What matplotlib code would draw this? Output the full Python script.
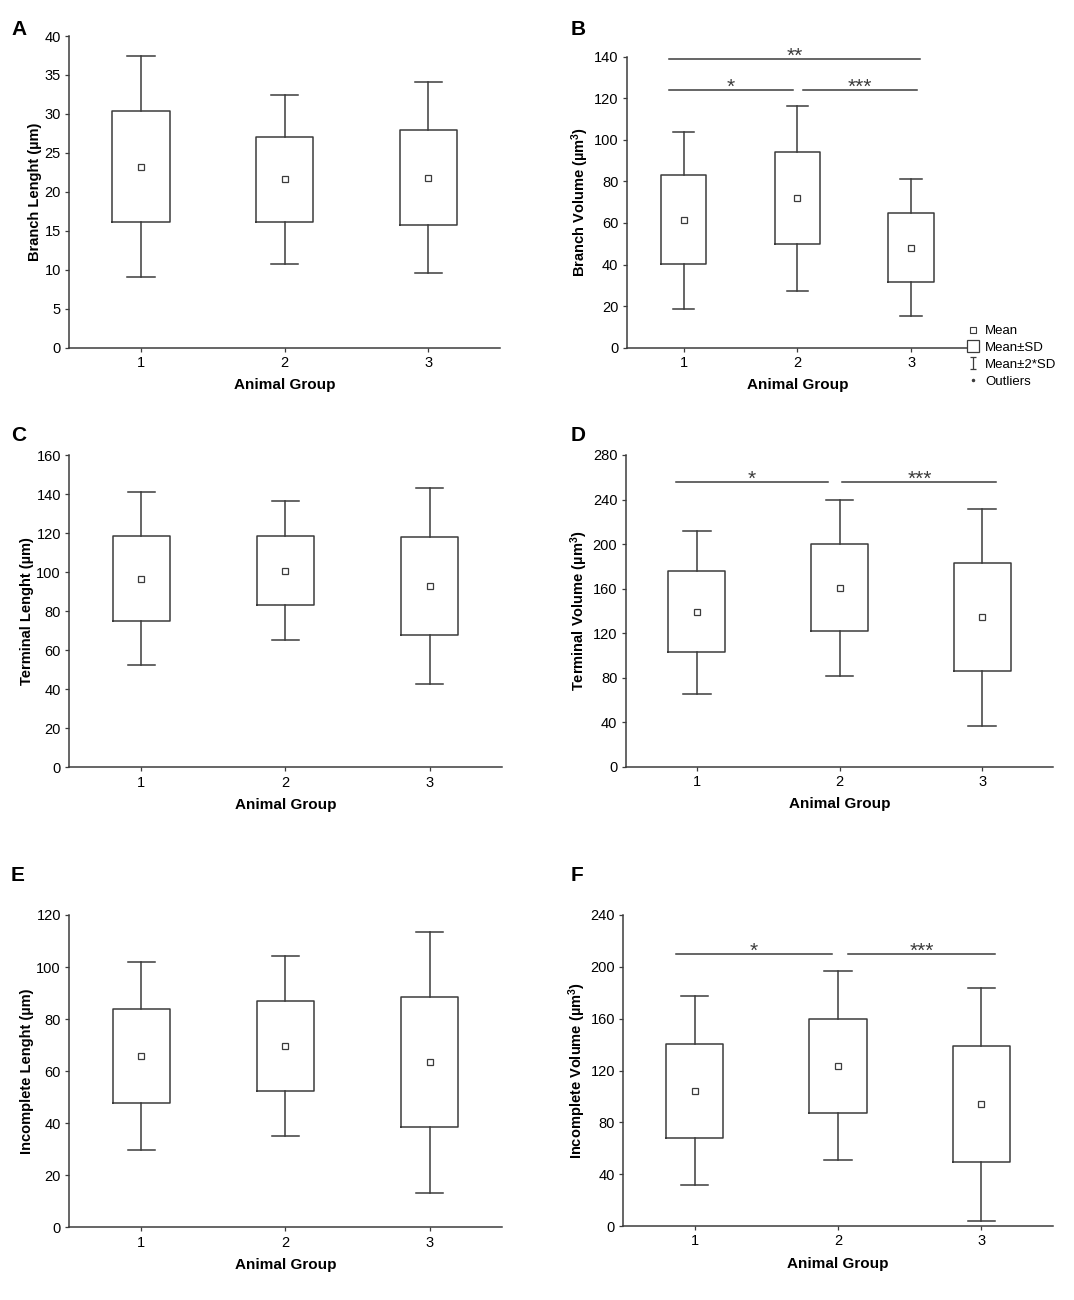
import matplotlib
matplotlib.use('Agg')
import matplotlib.pyplot as plt
from matplotlib.lines import Line2D
from matplotlib.path import Path

plt.rcParams['font.family'] = ['Liberation Sans', 'DejaVu Sans']
plt.rcParams['mathtext.fontset'] = 'custom'
plt.rcParams['mathtext.rm'] = 'Liberation Sans'
plt.rcParams['mathtext.it'] = 'Liberation Sans:italic'
plt.rcParams['mathtext.bf'] = 'Liberation Sans:bold'

groups = [1, 2, 3]

# mean, mean-SD, mean+SD, mean-2SD, mean+2SD
a_mean = [23.2, 21.6, 21.8]
a_sd_lo = [16.1, 16.1, 15.7]
a_sd_hi = [30.4, 27.0, 28.0]
a_sd2_lo = [9.1, 10.7, 9.6]
a_sd2_hi = [37.4, 32.4, 34.1]

b_mean = [61.4, 71.8, 47.8]
b_sd_lo = [40.2, 49.7, 31.8]
b_sd_hi = [83.0, 94.0, 64.6]
b_sd2_lo = [18.8, 27.4, 15.4]
b_sd2_hi = [104.0, 116.3, 81.0]

c_mean = [96.7, 100.8, 93.1]
c_sd_lo = [74.8, 83.0, 68.0]
c_sd_hi = [118.7, 118.3, 118.0]
c_sd2_lo = [52.4, 65.4, 42.7]
c_sd2_hi = [141.2, 136.4, 143.3]

d_mean = [139.3, 160.5, 134.2]
d_sd_lo = [102.7, 121.6, 85.7]
d_sd_hi = [175.5, 199.8, 183.4]
d_sd2_lo = [65.6, 81.8, 36.5]
d_sd2_hi = [212.0, 239.3, 231.8]

e_mean = [66.0, 69.6, 63.7]
e_sd_lo = [47.8, 52.5, 38.4]
e_sd_hi = [84.0, 87.1, 88.4]
e_sd2_lo = [29.8, 35.0, 13.3]
e_sd2_hi = [102.0, 104.3, 113.5]

f_mean = [104.4, 123.5, 94.4]
f_sd_lo = [68.2, 86.9, 49.4]
f_sd_hi = [140.7, 159.7, 138.9]
f_sd2_lo = [31.4, 50.7, 4.1]
f_sd2_hi = [177.5, 196.8, 183.9]

# significance bars: (x start, x end, y, stars)
b_sig = [(0.87, 3.08, 139, '**'), (0.87, 1.965, 124, '*'), (2.05, 3.05, 124, '***')]
d_sig = [(0.85, 1.92, 256, '*'), (2.02, 3.10, 256, '***')]
f_sig = [(0.87, 1.955, 210, '*'), (2.07, 3.10, 210, '***')]

W, H = 1074, 1300
dark = '#3c3c3c'
fig = plt.figure(figsize=(W / 100, H / 100), dpi=100)


def px_axes(l, t, r, b):
    return fig.add_axes([l / W, 1 - b / H, (r - l) / W, (b - t) / H])


def panel(box, letter, letter_xy, mean, lo, hi, lo2, hi2, ymax, ystep, ylabel, sig=None):
    ax = px_axes(*box)
    stats = []
    for i in range(3):
        stats.append({'med': mean[i], 'mean': mean[i], 'q1': lo[i], 'q3': hi[i],
                      'whislo': lo2[i], 'whishi': hi2[i], 'fliers': []})
    ax.bxp(stats, positions=groups, widths=0.4, capwidths=0.19, showmeans=True,
           boxprops=dict(color=dark, linewidth=1.1),
           whiskerprops=dict(color=dark, linewidth=1.1),
           capprops=dict(color=dark, linewidth=1.1),
           medianprops=dict(visible=False),
           meanprops=dict(marker='s', markersize=4.5, markerfacecolor='white',
                          markeredgecolor=dark, markeredgewidth=0.9))
    ax.set_xlim(0.5, 3.5)
    ax.set_ylim(0, ymax)
    ax.set_yticks(range(0, ymax + 1, ystep))
    ax.set_xticks(groups)
    ax.set_xticklabels([str(g) for g in groups])
    for s in ['top', 'right']:
        ax.spines[s].set_visible(False)
    for s in ['left', 'bottom']:
        ax.spines[s].set_color(dark)
        ax.spines[s].set_linewidth(1.1)
    ax.tick_params(length=3, width=0.9, color=dark, labelsize=10.5, pad=3)
    ax.set_xlabel('Animal Group', fontsize=11, fontweight='bold', labelpad=6)
    ax.set_ylabel(ylabel, fontsize=10.5, fontweight='bold', labelpad=2)
    if sig:
        for x0, x1, y, stars in sig:
            ax.plot([x0, x1], [y, y], color=dark, lw=1.1, clip_on=False)
            ax.annotate(stars, ((x0 + x1) / 2, y), xytext=(0, -2),
                        textcoords='offset points', ha='center', va='baseline',
                        fontsize=15, color=dark, annotation_clip=False)
    fig.text(letter_xy[0] / W, 1 - letter_xy[1] / H, letter, fontsize=15,
             fontweight='bold', va='top', ha='left')
    return ax


panel((69.3, 36, 500, 347.7), 'A', (11, 20), a_mean, a_sd_lo, a_sd_hi, a_sd2_lo, a_sd2_hi,
      40, 5, 'Branch Lenght (µm)')
panel((626.7, 56.7, 968, 347.7), 'B', (571, 20), b_mean, b_sd_lo, b_sd_hi, b_sd2_lo, b_sd2_hi,
      140, 20, r'Branch Volume (µm$^{\mathbf{3}}$)', b_sig)
panel((69.3, 455, 501.7, 767.3), 'C', (11, 426), c_mean, c_sd_lo, c_sd_hi, c_sd2_lo, c_sd2_hi,
      160, 20, 'Terminal Lenght (µm)')
panel((625.7, 455, 1053.3, 766.7), 'D', (571, 426), d_mean, d_sd_lo, d_sd_hi, d_sd2_lo, d_sd2_hi,
      280, 40, r'Terminal Volume (µm$^{\mathbf{3}}$)', d_sig)
panel((69.3, 915, 501.7, 1227.3), 'E', (11, 866), e_mean, e_sd_lo, e_sd_hi, e_sd2_lo, e_sd2_hi,
      120, 20, 'Incomplete Lenght (µm)')
panel((623.3, 915, 1052.7, 1226), 'F', (571, 866), f_mean, f_sd_lo, f_sd_hi, f_sd2_lo, f_sd2_hi,
      240, 40, r'Incomplete Volume (µm$^{\mathbf{3}}$)', f_sig)

i_marker = Path([(-0.5, -1), (0.5, -1), (0, -1), (0, 1), (-0.5, 1), (0.5, 1)],
                [Path.MOVETO, Path.LINETO, Path.MOVETO, Path.LINETO, Path.MOVETO, Path.LINETO])
handles = [
    Line2D([], [], ls='none', marker='s', ms=4, mfc='white', mec=dark, mew=0.8),
    Line2D([], [], ls='none', marker='s', ms=8, mfc='white', mec=dark, mew=0.9),
    Line2D([], [], ls='none', marker=i_marker, ms=9, mfc='none', mec=dark, mew=0.9),
    Line2D([], [], ls='none', marker='.', ms=3, color=dark),
]
labels = ['Mean', 'Mean±SD', 'Mean±2*SD', 'Outliers']
fig.legend(handles, labels, loc='upper left', bbox_to_anchor=(968 / W, 1 - 325 / H),
           frameon=False, fontsize=9.5, handlelength=0.8, handletextpad=0.5,
           labelspacing=0.35, borderaxespad=0, borderpad=0)

fig.savefig('out.png', dpi=100, facecolor='white')
